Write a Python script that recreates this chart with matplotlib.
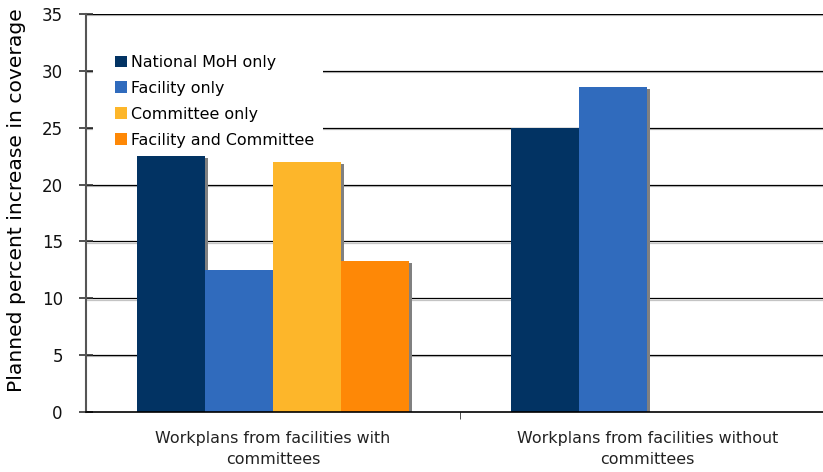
import numpy as np
import matplotlib
matplotlib.use("Agg")
import matplotlib.pyplot as plt
import matplotlib.patheffects as pe
from matplotlib.patches import Rectangle

categories = ["Workplans from facilities with\ncommittees",
              "Workplans from facilities without\ncommittees"]
series_names = ["National MoH only", "Facility only", "Committee only",
                "Facility and Committee"]
national_moh = [22.5, 25.0]
facility_only = [12.5, 28.6]
committee_only = [22.0, np.nan]
facility_committee = [13.3, np.nan]
series_values = [national_moh, facility_only, committee_only, facility_committee]
colors = ["#023363", "#306bbd", "#fdb62a", "#fe8806"]
yticks = [0, 5, 10, 15, 20, 25, 30, 35]

plt.rcParams['font.family'] = ['DejaVu Sans']
fig = plt.figure(figsize=(8.23, 4.72), dpi=100)
ax = fig.add_axes([86/823, 1-412/472, 1-86/823, (412-14)/472])

x = np.arange(len(categories))
w = 0.182
shadow = [pe.SimplePatchShadow(offset=(2.2, -1.6), shadow_rgbFace="#808080", alpha=1.0, rho=1.0),
          pe.Normal()]
for i, (name, vals, c) in enumerate(zip(series_names, series_values, colors)):
    v = np.array(vals, dtype=float)
    mask = ~np.isnan(v)
    ax.bar(x[mask] + (i - 1.5) * w, v[mask], width=w, color=c, label=name,
           zorder=3, path_effects=shadow, linewidth=0)

for yv in yticks[1:]:
    ax.axhline(yv, color="black", lw=0.9, zorder=1,
               path_effects=[pe.SimpleLineShadow(offset=(0, -0.9), shadow_color="#c4c4c4", alpha=1.0), pe.Normal()])

ax.set_ylim(0, 35)
ax.set_xlim(-0.5, 1.47)
ax.set_yticks(yticks)
ax.set_yticklabels([str(t) for t in yticks], fontsize=12, color="#111111")
ax.set_xticks(x)
ax.set_xticklabels(categories, fontsize=11.4, color="#222222", linespacing=1.5)
ax.tick_params(axis='x', length=0, pad=14)
ax.set_xticks([0.5], minor=True)
ax.tick_params(axis='x', which='minor', length=5, direction='out', color="#333333")
ax.tick_params(axis='y', length=9.4, direction='inout', color="#333333", width=1.2, pad=12)

for s in ["top", "right"]:
    ax.spines[s].set_visible(False)
ax.spines["left"].set_color("#555555")
ax.spines["left"].set_linewidth(1.5)
ax.spines["bottom"].set_color("black")
ax.spines["bottom"].set_linewidth(1.2)
ax.spines["bottom"].set_zorder(4)

ax.set_ylabel("Planned percent increase in coverage", fontsize=14.6)
ax.yaxis.set_label_coords(-0.082, 0.533)

# white legend background box (in axes, above gridlines, below bars)
ax.add_patch(Rectangle((93/823, 1-153/472), (323-93)/823, (153-40)/472,
                       transform=fig.transFigure, facecolor="white",
                       edgecolor="none", zorder=2, clip_on=False))

leg = ax.legend(loc="upper left", bbox_to_anchor=(115/823, 1-55/472), bbox_transform=fig.transFigure,
                frameon=False, fontsize=11.4, handlelength=0.78, handleheight=0.78,
                handletextpad=0.2, labelspacing=0.69, borderpad=0, borderaxespad=0)
for h in leg.legend_handles:
    h.set_path_effects([])
leg.set_zorder(5)

fig.savefig("out.png", dpi=100)
